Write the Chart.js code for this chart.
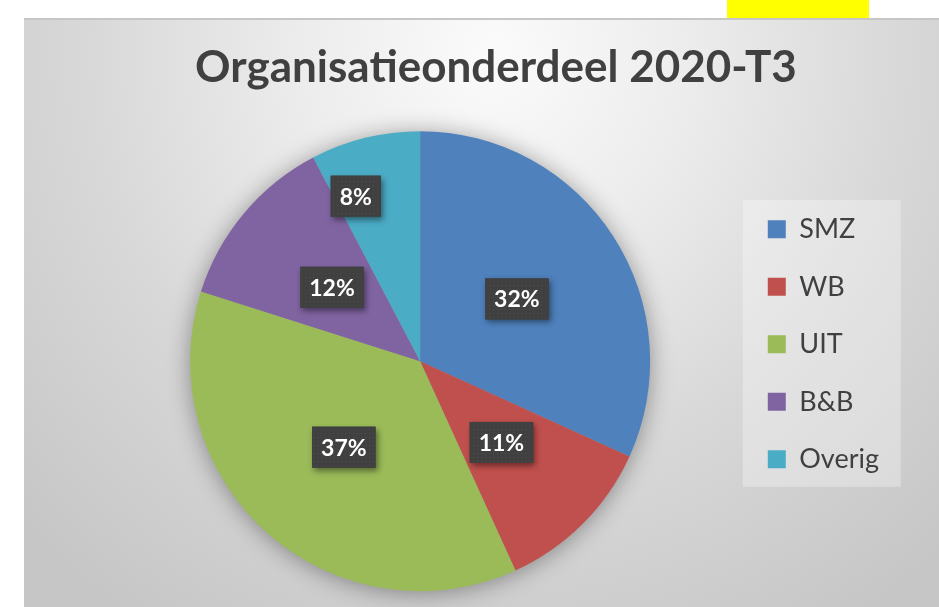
<!DOCTYPE html>
<html>
<head>
<meta charset="utf-8">
<title>Organisatieonderdeel 2020-T3</title>
<script src="https://cdn.jsdelivr.net/npm/chart.js@4.4.1/dist/chart.umd.min.js"></script>
<style>
    html, body {
        margin: 0;
        padding: 0;
        width: 939px;
        height: 607px;
        overflow: hidden;
        background: #ffffff;
    }
    .marker {
        position: absolute;
        left: 727px;
        top: 0;
        width: 142px;
        height: 18px;
        background: #ffff00;
    }
    .chart-frame {
        position: absolute;
        left: 24px;
        top: 18px;
        width: 940px;
        height: 587px;
        border-top: 2px solid #c6c6c6;
        background: radial-gradient(ellipse 70% 115% at 50% 6%, #fbfbfb 0%, #ececec 30%, #d8d8d8 62%, #c6c6c6 100%);
    }
    .chart-frame canvas {
        display: block;
    }
</style>
</head>
<body>
<div class="marker"></div>
<div class="chart-frame">
    <canvas id="myChart" width="940" height="587"></canvas>
</div>

<script>
const chartTitle = 'Organisatieonderdeel 2020-T3';
const categories = ['SMZ', 'WB', 'UIT', 'B&B', 'Overig'];
const shares = [31.8, 11.4, 36.7, 12.4, 7.7];
const sliceColors = ['#4f81bd', '#c0504d', '#9bbb59', '#8064a2', '#4bacc6'];

document.addEventListener('DOMContentLoaded', function () {
    initializeChart();
});

// dotted dark fill used behind the percentage labels
function makeLabelPattern(ctx) {
    const tile = document.createElement('canvas');
    tile.width = 4;
    tile.height = 4;
    const t = tile.getContext('2d');
    t.fillStyle = '#404040';
    t.fillRect(0, 0, 4, 4);
    t.fillStyle = 'rgba(255,255,255,0.07)';
    t.fillRect(1, 1, 1, 1);
    return ctx.createPattern(tile, 'repeat');
}

// soft shadow under the pie
const pieShadow = {
    id: 'pieShadow',
    beforeDatasetsDraw(chart) {
        const arc = chart.getDatasetMeta(0).data[0];
        if (!arc) return;
        const ctx = chart.ctx;
        ctx.save();
        ctx.shadowColor = 'rgba(0,0,0,0.4)';
        ctx.shadowBlur = 24;
        ctx.shadowOffsetY = 2;
        ctx.fillStyle = '#9a9a9a';
        ctx.beginPath();
        ctx.arc(arc.x, arc.y, arc.outerRadius - 1, 0, Math.PI * 2);
        ctx.fill();
        ctx.restore();
    }
};

// lighter panel behind the legend
const legendPanel = {
    id: 'legendPanel',
    beforeDraw(chart) {
        const legend = chart.legend;
        const pad = legend.options.labels.padding;
        const size = legend.options.labels.font.size;
        const x = legend.left + pad - 25;
        const firstTop = legend.top + pad;
        const y = firstTop - 16;
        const h = 4 * (size + pad) + size + 30;
        const ctx = chart.ctx;
        ctx.save();
        ctx.fillStyle = 'rgba(255,255,255,0.3)';
        ctx.fillRect(x, y, 158, h);
        ctx.restore();
    }
};

// percentage labels in dark boxes; thin slices get their label pushed outward
const percentLabels = {
    id: 'percentLabels',
    afterDatasetsDraw(chart) {
        const ctx = chart.ctx;
        const meta = chart.getDatasetMeta(0);
        const values = chart.data.datasets[0].data;
        const total = values.reduce((a, b) => a + b, 0);
        const pattern = makeLabelPattern(ctx);

        ctx.save();
        ctx.font = 'bold 23px Lato';
        ctx.textAlign = 'center';
        ctx.textBaseline = 'middle';

        meta.data.forEach((arc, i) => {
            const pct = values[i] / total * 100;
            let pos = arc.tooltipPosition();
            if (pct < 10) {
                const mid = (arc.startAngle + arc.endAngle) / 2 - 0.13;
                const r = arc.outerRadius * 0.77;
                pos = { x: arc.x + Math.cos(mid) * r, y: arc.y + Math.sin(mid) * r };
            }
            const text = Math.round(pct) + '%';
            const w = ctx.measureText(text).width + 18;
            const h = 41;

            ctx.save();
            ctx.shadowColor = 'rgba(0,0,0,0.45)';
            ctx.shadowBlur = 6;
            ctx.shadowOffsetX = 2;
            ctx.shadowOffsetY = 3;
            ctx.fillStyle = '#404040';
            ctx.fillRect(pos.x - w / 2, pos.y - h / 2, w, h);
            ctx.restore();

            ctx.fillStyle = pattern;
            ctx.fillRect(pos.x - w / 2, pos.y - h / 2, w, h);

            ctx.fillStyle = '#ffffff';
            ctx.fillText(text, pos.x, pos.y + 1);
        });
        ctx.restore();
    }
};

// Chart Initialization
function initializeChart() {
    const ctx = document.getElementById('myChart').getContext('2d');
    new Chart(ctx, {
        type: 'pie',
        data: {
            labels: categories,
            datasets: [{
                data: shares,
                backgroundColor: sliceColors,
                borderWidth: 0,
                radius: 230
            }]
        },
        options: {
            responsive: false,
            animation: false,
            layout: {
                padding: { left: 79, right: 75, top: 0, bottom: 70 }
            },
            plugins: {
                title: {
                    display: true,
                    text: chartTitle,
                    color: '#404040',
                    font: { family: 'Lato', size: 44, weight: 'bold' },
                    padding: { top: 21, bottom: 91.5 }
                },
                legend: {
                    position: 'right',
                    align: 'start',
                    fullSize: false,
                    labels: {
                        boxWidth: 18,
                        boxHeight: 18,
                        padding: 30.5,
                        color: '#404040',
                        font: { family: 'Lato', size: 27 }
                    }
                },
                tooltip: { enabled: false }
            }
        },
        plugins: [legendPanel, pieShadow, percentLabels]
    });
}
</script>
</body>
</html>
